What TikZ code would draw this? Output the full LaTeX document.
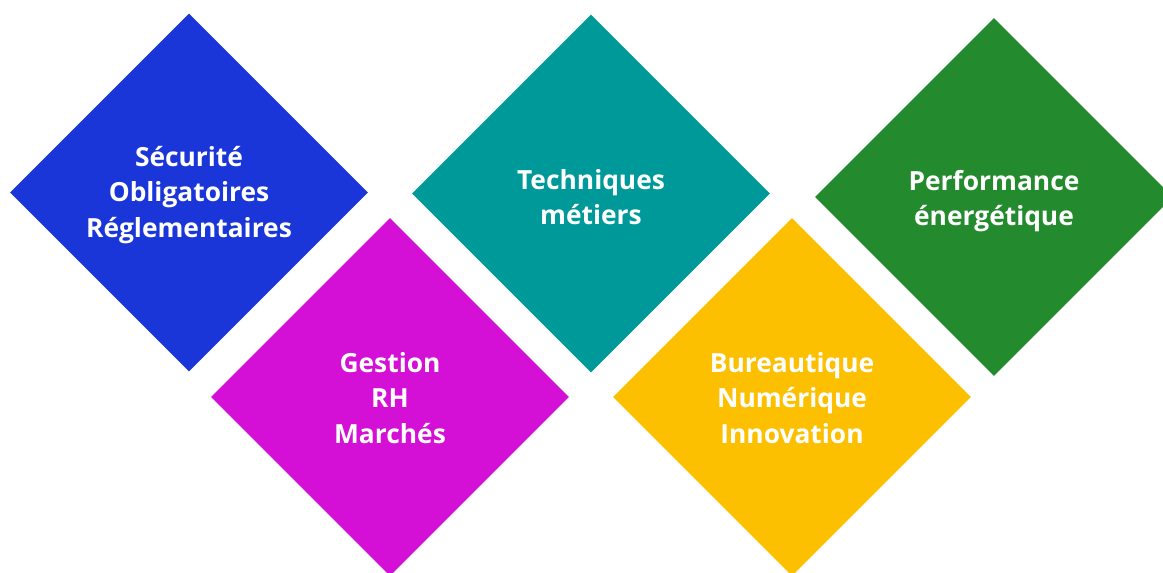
\documentclass[tikz,border=0pt]{standalone}
\usepackage{fontspec}
\setmainfont{Open Sans}
\usetikzlibrary{shapes.geometric}
\definecolor{cblue}{RGB}{27,54,216}
\definecolor{cmag}{RGB}{212,16,214}
\definecolor{cteal}{RGB}{0,153,153}
\definecolor{cgreen}{RGB}{35,139,46}
\definecolor{cyel}{RGB}{253,192,0}
\tikzset{
  px/.style={x=0.02cm,y=-0.02cm},
  tile/.style={diamond, draw=none, fill=#1, minimum width=7.16cm, minimum height=7.16cm, inner sep=0pt, aspect=1},
  lbl/.style={text=white, align=center, font=\fontsize{15}{20.2}\selectfont\bfseries, inner sep=0pt}
}
\begin{document}
\begin{tikzpicture}[px]
\useasboundingbox (0,0) rectangle (1163,573);
\clip (0,0) rectangle (1163,573);
\node[tile=cblue] (d1) at (189,192.5) {};
\node[tile=cteal] (d3) at (591,193.5) {};
\node[tile=cgreen] (d5) at (994,197) {};
\node[tile=cmag] (d2) at (390,397) {};
\node[tile=cyel] (d4) at (792,397) {};
\node[lbl] (t1) at (189,195) {Sécurité\\Obligatoires\\Réglementaires};
\node[lbl] (t3) at (591,197) {Techniques\\métiers};
\node[lbl] (t5) at (994,201) {Performance\\énergétique};
\node[lbl] (t2) at (390,398) {Gestion\\RH\\Marchés};
\node[lbl] (t4) at (792,398) {Bureautique\\Numérique\\Innovation};
\end{tikzpicture}
\end{document}
